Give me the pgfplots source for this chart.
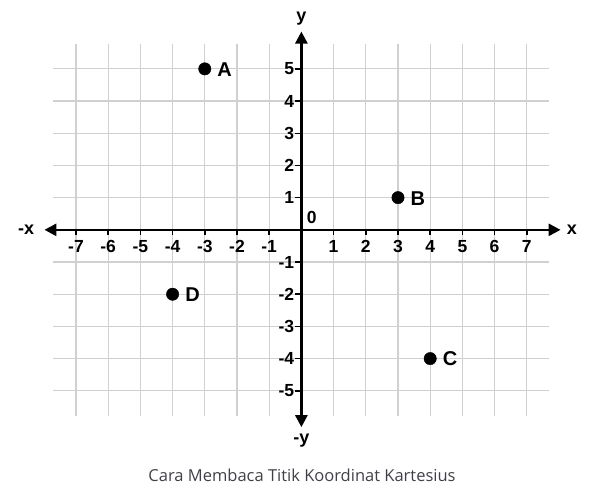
\documentclass[border=0pt]{standalone}
\usepackage{pgfplots}
\pgfplotsset{compat=1.18}
\usepackage{fontspec}
\setmainfont{Liberation Sans}
\newfontfamily\capfont{Open Sans}
\usetikzlibrary{arrows.meta}
\definecolor{gridc}{RGB}{208,208,208}
\definecolor{capc}{RGB}{64,64,72}
\begin{document}
\begin{tikzpicture}
\begin{axis}[
  width=594pt, height=498pt, scale only axis,
  xmin=-9.36, xmax=9.087, ymin=-8.33, ymax=7.14,
  hide axis, clip=false,
]
\path (rel axis cs:0,0) rectangle (rel axis cs:1,1);
% grid
\foreach \i in {-7,...,7} {
  \edef\tmp{\noexpand\draw[gridc, line width=1.2pt] (axis cs:\i,-5.77) -- (axis cs:\i,5.77);}
  \tmp
}
\foreach \j in {-5,...,5} {
  \edef\tmp{\noexpand\draw[gridc, line width=1.2pt] (axis cs:-7.7,\j) -- (axis cs:7.7,\j);}
  \tmp
}
% axes
\draw[line width=2.6pt, {Triangle[length=12pt,width=12pt]}-{Triangle[length=12pt,width=12pt]}] (axis cs:-7.98,0) -- (axis cs:8.05,0);
\draw[line width=2.6pt, {Triangle[length=12pt,width=12pt]}-{Triangle[length=12pt,width=12pt]}] (axis cs:0,-6.13) -- (axis cs:0,6.16);
% ticks and labels
\foreach \i in {-7,...,-1,1,2,3,4,5,6,7} {
  \edef\tmp{\noexpand\draw[line width=1.5pt] (axis cs:\i,0) -- (axis cs:\i,-0.15);
    \noexpand\node[font=\noexpand\fontsize{17.5}{18}\noexpand\bfseries\noexpand\selectfont, inner sep=0pt] at (axis cs:\i,-0.52) {\i};}
  \tmp
}
\foreach \j in {-5,...,-1,1,2,3,4,5} {
  \edef\tmp{\noexpand\draw[line width=1.5pt] (axis cs:0,\j) -- (axis cs:-0.2,\j);
    \noexpand\node[font=\noexpand\fontsize{17.5}{18}\noexpand\bfseries\noexpand\selectfont, inner sep=0pt, anchor=east] at (axis cs:-0.22,\j) {\j};}
  \tmp
}
\node[font=\fontsize{17.5}{18}\bfseries\selectfont, inner sep=0pt] at (axis cs:0.32,0.37) {0};
\node[font=\fontsize{18}{18}\bfseries\selectfont, inner sep=0pt] at (axis cs:-8.55,0) {-x};
\node[font=\fontsize{18}{18}\bfseries\selectfont, inner sep=0pt] at (axis cs:8.4,0) {x};
\node[font=\fontsize{18}{18}\bfseries\selectfont, inner sep=0pt] at (axis cs:0,6.55) {y};
\node[font=\fontsize{18}{18}\bfseries\selectfont, inner sep=0pt] at (axis cs:0,-6.55) {-y};
% points
\addplot[only marks, mark=*, mark size=6.2pt, black,
  nodes near coords, point meta=explicit symbolic,
  nodes near coords style={anchor=west, inner sep=0pt, xshift=12.5pt, yshift=-0.5pt, font=\fontsize{20}{20}\bfseries\selectfont, text=black}]
  table[meta=label] {
x y label
-3 5 A
3 1 B
4 -4 C
-4 -2 D
};
\node[font=\capfont\fontsize{16.5}{18}\selectfont, text=capc, inner sep=0pt] at (axis cs:0.02,-7.61) {Cara Membaca Titik Koordinat Kartesius};
\end{axis}
\end{tikzpicture}
\end{document}
